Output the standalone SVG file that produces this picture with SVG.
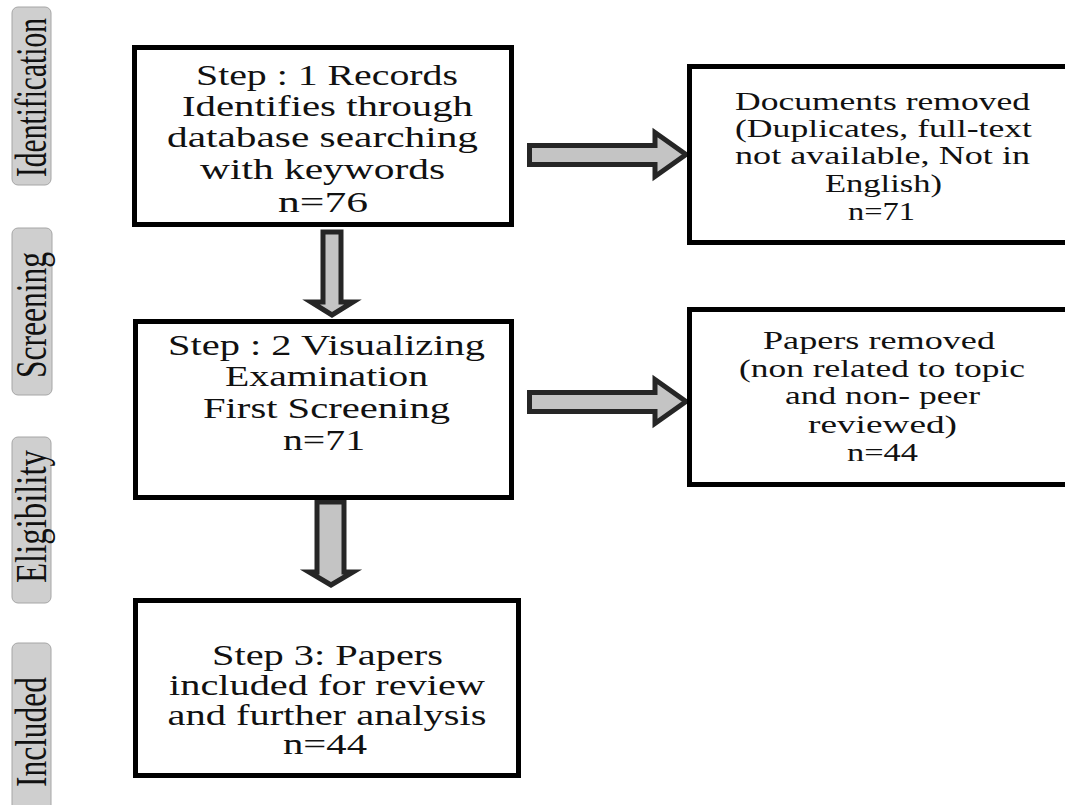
<svg xmlns="http://www.w3.org/2000/svg" width="1065" height="805" viewBox="0 0 1065 805">
<style>
.bg{fill:#ffffff}
.box{fill:#ffffff;stroke:#000000;stroke-width:5}
.lab{fill:#cfcfcf;stroke:#a6a6a6;stroke-width:1}
.t{font-family:"Liberation Serif","Times New Roman",serif;font-size:30px;fill:#111111;text-anchor:middle}
.t3{font-family:"Liberation Serif","Times New Roman",serif;font-size:29px;fill:#111111;text-anchor:middle}
.tr{font-family:"Liberation Serif","Times New Roman",serif;font-size:26px;fill:#111111;text-anchor:middle}
.vt{font-family:"Liberation Serif","Times New Roman",serif;font-size:44px;fill:#111111}
.arr{fill:#c4c4c4;stroke:#262626;stroke-width:5;stroke-linejoin:miter}
</style>
<rect class="bg" x="0" y="0" width="1065" height="805"/>

<g id="label-identification">
<rect class="lab" x="12" y="7" width="39" height="178" rx="6"/>
<text class="vt" transform="translate(46,177) rotate(-90) scale(0.65,1)" textLength="244.6" lengthAdjust="spacingAndGlyphs">Identification</text>
</g>
<g id="label-screening">
<rect class="lab" x="12" y="228" width="40" height="167" rx="6"/>
<text class="vt" transform="translate(46,378) rotate(-90) scale(0.65,1)" textLength="193.8" lengthAdjust="spacingAndGlyphs">Screening</text>
</g>
<g id="label-eligibility">
<rect class="lab" x="12" y="437" width="39" height="166" rx="6"/>
<text class="vt" transform="translate(46,583) rotate(-90) scale(0.65,1)" textLength="204.6" lengthAdjust="spacingAndGlyphs">Eligibility</text>
</g>
<g id="label-included">
<rect class="lab" x="12" y="643" width="39" height="180" rx="6"/>
<text class="vt" transform="translate(46,787) rotate(-90) scale(0.65,1)" textLength="169.2" lengthAdjust="spacingAndGlyphs">Included</text>
</g>

<g id="connectors">
<polygon class="arr" points="323,232 341,232 341,302 353,302 332,315 311,302 323,302"/>
<polygon class="arr" points="317,502 344,502 344,572 353,572 331,585 309,572 317,572"/>
<polygon class="arr" points="529.5,145.5 655,145.5 655,132.5 686,154.5 655,176.5 655,164.5 529.5,164.5"/>
<polygon class="arr" points="529.5,392.5 655,392.5 655,379.5 686,401.5 655,423.5 655,411.5 529.5,411.5"/>
</g>

<g id="step1">
<rect class="box" x="134.5" y="47.5" width="377" height="177"/>
<text class="t" x="327" y="85" textLength="262" lengthAdjust="spacingAndGlyphs">Step : 1 Records</text>
<text class="t" x="327.5" y="116" textLength="291" lengthAdjust="spacingAndGlyphs">Identifies through</text>
<text class="t" x="322.5" y="147" textLength="311" lengthAdjust="spacingAndGlyphs">database searching</text>
<text class="t" x="322.5" y="179" textLength="245" lengthAdjust="spacingAndGlyphs">with keywords</text>
<text class="t" x="323" y="212" textLength="90" lengthAdjust="spacingAndGlyphs">n=76</text>
</g>

<g id="step2">
<rect class="box" x="135.5" y="321.5" width="376" height="176"/>
<text class="t" x="326.5" y="355" textLength="317" lengthAdjust="spacingAndGlyphs">Step : 2 Visualizing</text>
<text class="t" x="326.5" y="386" textLength="203" lengthAdjust="spacingAndGlyphs">Examination</text>
<text class="t" x="326.5" y="418" textLength="247" lengthAdjust="spacingAndGlyphs">First Screening</text>
<text class="t" x="324" y="450" textLength="82" lengthAdjust="spacingAndGlyphs">n=71</text>
</g>

<g id="step3">
<rect class="box" x="135.5" y="600.5" width="383" height="175"/>
<text class="t3" x="327.5" y="665" textLength="231" lengthAdjust="spacingAndGlyphs">Step 3: Papers</text>
<text class="t3" x="327" y="695" textLength="316" lengthAdjust="spacingAndGlyphs">included for review</text>
<text class="t3" x="327" y="725" textLength="319" lengthAdjust="spacingAndGlyphs">and further analysis</text>
<text class="t3" x="325" y="754" textLength="84" lengthAdjust="spacingAndGlyphs">n=44</text>
</g>

<g id="removed1">
<rect class="box" x="689.5" y="66.5" width="400" height="176"/>
<text class="tr" x="882.5" y="110" textLength="295" lengthAdjust="spacingAndGlyphs">Documents removed</text>
<text class="tr" x="883.5" y="137" textLength="297" lengthAdjust="spacingAndGlyphs">(Duplicates, full-text</text>
<text class="tr" x="882.5" y="164" textLength="295" lengthAdjust="spacingAndGlyphs">not available, Not in</text>
<text class="tr" x="883.5" y="192" textLength="117" lengthAdjust="spacingAndGlyphs">English)</text>
<text class="tr" x="881.5" y="220" textLength="67" lengthAdjust="spacingAndGlyphs">n=71</text>
</g>

<g id="removed2">
<rect class="box" x="689.5" y="309.5" width="400" height="175"/>
<text class="tr" x="879" y="349" textLength="232" lengthAdjust="spacingAndGlyphs">Papers removed</text>
<text class="tr" x="882" y="377" textLength="286" lengthAdjust="spacingAndGlyphs">(non related to topic</text>
<text class="tr" x="882.5" y="404" textLength="195" lengthAdjust="spacingAndGlyphs">and non- peer</text>
<text class="tr" x="882.5" y="433" textLength="149" lengthAdjust="spacingAndGlyphs">reviewed)</text>
<text class="tr" x="882.5" y="461" textLength="71" lengthAdjust="spacingAndGlyphs">n=44</text>
</g>
</svg>
